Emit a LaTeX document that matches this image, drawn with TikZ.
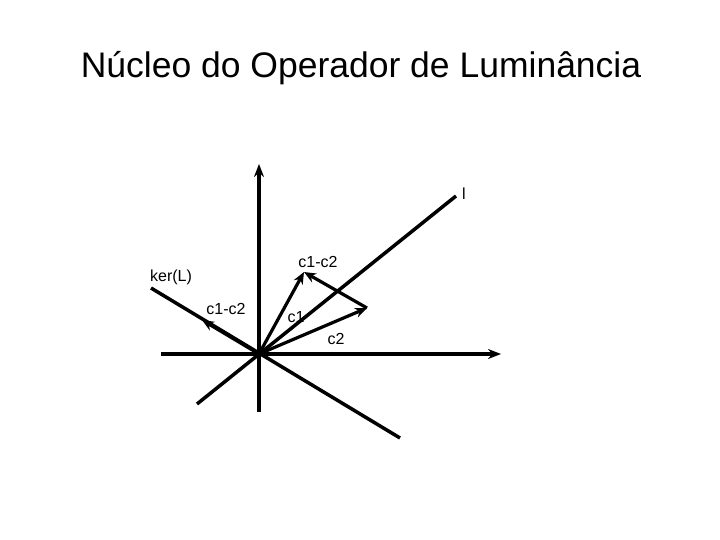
\documentclass[tikz,border=0pt]{standalone}
\usepackage{fontspec}
\setmainfont{Liberation Sans}
\usetikzlibrary{arrows.meta}
\begin{document}
\begin{tikzpicture}[x=1pt,y=-1pt,
  ax/.style={line width=3.5pt},
  vec/.style={line width=3.2pt,-{Stealth[length=12pt,width=10pt]}},
  lbl/.style={font=\fontsize{16}{18}\selectfont,inner sep=0pt}]
\useasboundingbox (0,0) rectangle (720,540);
\node[font=\fontsize{35.5}{40}\selectfont,inner sep=0pt] (title) at (361,68) {Núcleo do Operador de Luminância};
\coordinate (O) at (259,354);
\coordinate (vb) at (259,412);
\coordinate (vt) at (259,164);
\coordinate (hl) at (161,354);
\coordinate (hr) at (501,354);
\coordinate (la) at (197,404);
\coordinate (lb) at (456,196);
\coordinate (ka) at (151,288);
\coordinate (kb) at (400,438);
\coordinate (c1) at (304,272);
\coordinate (c2) at (367,308);
\coordinate (kc) at (202,320);
\draw[ax,-{Stealth[length=13pt,width=10pt]}] (vb) -- (vt);
\draw[ax,-{Stealth[length=13pt,width=10pt]}] (hl) -- (hr);
\draw[ax] (la) -- (lb);
\draw[ax] (ka) -- (kb);
\draw[vec] (O) -- (c1);
\draw[vec] (O) -- (c2);
\draw[vec] (c2) -- (c1);
\draw[vec] (O) -- (kc);
\node[lbl] (ll) at (464,194) {l};
\node[lbl] (ker) at (171,277) {ker(L)};
\node[lbl] (d1) at (226,309) {c1-c2};
\node[lbl] (d2) at (318,262) {c1-c2};
\node[lbl] (l1) at (296,317) {c1};
\node[lbl] (l2) at (336,339) {c2};
\end{tikzpicture}
\end{document}
